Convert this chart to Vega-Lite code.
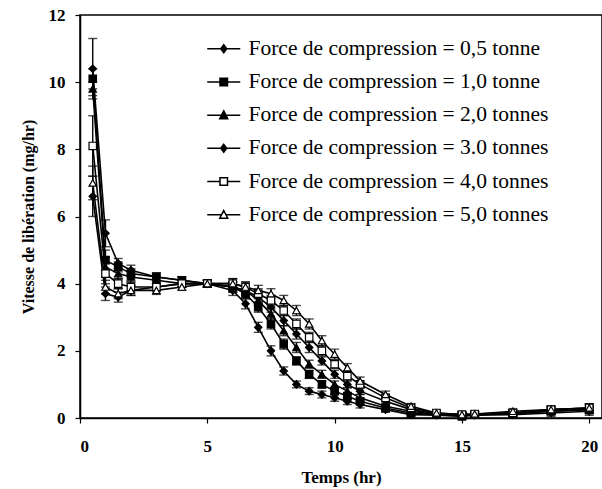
{
"$schema": "https://vega.github.io/schema/vega-lite/v6.json",
"width": 522, "height": 403,
"autosize": {"type": "none"},
"padding": {"left": 80, "top": 15, "right": 0, "bottom": 71},
"background": "white",
"config": {"view": {"stroke": "black", "strokeWidth": 1.5}, "font": "Liberation Serif"},
"datasets": {"d": [
{"f":"0,5 tonne","t":0.5,"v":10.4,"e":0.9},{"f":"0,5 tonne","t":1,"v":5.5,"e":0.4},{"f":"0,5 tonne","t":1.5,"v":4.6,"e":0.15},{"f":"0,5 tonne","t":2,"v":4.4,"e":0.15},{"f":"0,5 tonne","t":3,"v":4.2,"e":0.12},{"f":"0,5 tonne","t":4,"v":4.1,"e":0.1},{"f":"0,5 tonne","t":5,"v":4.0,"e":0.1},{"f":"0,5 tonne","t":6,"v":3.8,"e":0.15},{"f":"0,5 tonne","t":6.5,"v":3.4,"e":0.15},{"f":"0,5 tonne","t":7,"v":2.7,"e":0.15},{"f":"0,5 tonne","t":7.5,"v":2.0,"e":0.15},{"f":"0,5 tonne","t":8,"v":1.4,"e":0.12},{"f":"0,5 tonne","t":8.5,"v":1.0,"e":0.1},{"f":"0,5 tonne","t":9,"v":0.8,"e":0.1},{"f":"0,5 tonne","t":9.5,"v":0.7,"e":0.1},{"f":"0,5 tonne","t":10,"v":0.6,"e":0.1},{"f":"0,5 tonne","t":10.5,"v":0.5,"e":0.1},{"f":"0,5 tonne","t":11,"v":0.4,"e":0.1},{"f":"0,5 tonne","t":12,"v":0.25,"e":0.08},{"f":"0,5 tonne","t":13,"v":0.1,"e":0.08},{"f":"0,5 tonne","t":14,"v":0.08,"e":0.08},{"f":"0,5 tonne","t":15,"v":0.05,"e":0.08},{"f":"0,5 tonne","t":15.5,"v":0.08,"e":0.08},{"f":"0,5 tonne","t":17,"v":0.1,"e":0.08},{"f":"0,5 tonne","t":18.5,"v":0.15,"e":0.1},{"f":"0,5 tonne","t":20,"v":0.2,"e":0.12},
{"f":"1,0 tonne","t":0.5,"v":10.1,"e":0.3},{"f":"1,0 tonne","t":1,"v":4.7,"e":0.3},{"f":"1,0 tonne","t":1.5,"v":4.5,"e":0.15},{"f":"1,0 tonne","t":2,"v":4.3,"e":0.15},{"f":"1,0 tonne","t":3,"v":4.2,"e":0.12},{"f":"1,0 tonne","t":4,"v":4.1,"e":0.1},{"f":"1,0 tonne","t":5,"v":4.0,"e":0.1},{"f":"1,0 tonne","t":6,"v":3.9,"e":0.15},{"f":"1,0 tonne","t":6.5,"v":3.7,"e":0.15},{"f":"1,0 tonne","t":7,"v":3.3,"e":0.15},{"f":"1,0 tonne","t":7.5,"v":2.8,"e":0.15},{"f":"1,0 tonne","t":8,"v":2.2,"e":0.15},{"f":"1,0 tonne","t":8.5,"v":1.7,"e":0.12},{"f":"1,0 tonne","t":9,"v":1.3,"e":0.12},{"f":"1,0 tonne","t":9.5,"v":1.0,"e":0.1},{"f":"1,0 tonne","t":10,"v":0.8,"e":0.1},{"f":"1,0 tonne","t":10.5,"v":0.65,"e":0.1},{"f":"1,0 tonne","t":11,"v":0.5,"e":0.1},{"f":"1,0 tonne","t":12,"v":0.3,"e":0.08},{"f":"1,0 tonne","t":13,"v":0.15,"e":0.08},{"f":"1,0 tonne","t":14,"v":0.1,"e":0.08},{"f":"1,0 tonne","t":15,"v":0.05,"e":0.08},{"f":"1,0 tonne","t":15.5,"v":0.1,"e":0.08},{"f":"1,0 tonne","t":17,"v":0.12,"e":0.08},{"f":"1,0 tonne","t":18.5,"v":0.2,"e":0.1},{"f":"1,0 tonne","t":20,"v":0.25,"e":0.12},
{"f":"2,0 tonnes","t":0.5,"v":9.8,"e":0.2},{"f":"2,0 tonnes","t":1,"v":4.5,"e":0.3},{"f":"2,0 tonnes","t":1.5,"v":4.3,"e":0.15},{"f":"2,0 tonnes","t":2,"v":4.2,"e":0.15},{"f":"2,0 tonnes","t":3,"v":4.1,"e":0.12},{"f":"2,0 tonnes","t":4,"v":4.0,"e":0.1},{"f":"2,0 tonnes","t":5,"v":4.0,"e":0.1},{"f":"2,0 tonnes","t":6,"v":3.9,"e":0.15},{"f":"2,0 tonnes","t":6.5,"v":3.8,"e":0.15},{"f":"2,0 tonnes","t":7,"v":3.5,"e":0.15},{"f":"2,0 tonnes","t":7.5,"v":3.1,"e":0.15},{"f":"2,0 tonnes","t":8,"v":2.6,"e":0.15},{"f":"2,0 tonnes","t":8.5,"v":2.1,"e":0.15},{"f":"2,0 tonnes","t":9,"v":1.6,"e":0.12},{"f":"2,0 tonnes","t":9.5,"v":1.3,"e":0.12},{"f":"2,0 tonnes","t":10,"v":1.0,"e":0.1},{"f":"2,0 tonnes","t":10.5,"v":0.8,"e":0.1},{"f":"2,0 tonnes","t":11,"v":0.6,"e":0.1},{"f":"2,0 tonnes","t":12,"v":0.35,"e":0.08},{"f":"2,0 tonnes","t":13,"v":0.2,"e":0.08},{"f":"2,0 tonnes","t":14,"v":0.1,"e":0.08},{"f":"2,0 tonnes","t":15,"v":0.08,"e":0.08},{"f":"2,0 tonnes","t":15.5,"v":0.1,"e":0.08},{"f":"2,0 tonnes","t":17,"v":0.15,"e":0.08},{"f":"2,0 tonnes","t":18.5,"v":0.2,"e":0.1},{"f":"2,0 tonnes","t":20,"v":0.25,"e":0.12},
{"f":"3.0 tonnes","t":0.5,"v":6.6,"e":0.6},{"f":"3.0 tonnes","t":1,"v":3.7,"e":0.2},{"f":"3.0 tonnes","t":1.5,"v":3.6,"e":0.15},{"f":"3.0 tonnes","t":2,"v":3.8,"e":0.15},{"f":"3.0 tonnes","t":3,"v":3.9,"e":0.12},{"f":"3.0 tonnes","t":4,"v":4.0,"e":0.1},{"f":"3.0 tonnes","t":5,"v":4.0,"e":0.1},{"f":"3.0 tonnes","t":6,"v":3.9,"e":0.15},{"f":"3.0 tonnes","t":6.5,"v":3.8,"e":0.15},{"f":"3.0 tonnes","t":7,"v":3.6,"e":0.15},{"f":"3.0 tonnes","t":7.5,"v":3.3,"e":0.15},{"f":"3.0 tonnes","t":8,"v":2.9,"e":0.15},{"f":"3.0 tonnes","t":8.5,"v":2.5,"e":0.15},{"f":"3.0 tonnes","t":9,"v":2.1,"e":0.15},{"f":"3.0 tonnes","t":9.5,"v":1.7,"e":0.12},{"f":"3.0 tonnes","t":10,"v":1.3,"e":0.12},{"f":"3.0 tonnes","t":10.5,"v":1.0,"e":0.1},{"f":"3.0 tonnes","t":11,"v":0.8,"e":0.1},{"f":"3.0 tonnes","t":12,"v":0.5,"e":0.1},{"f":"3.0 tonnes","t":13,"v":0.25,"e":0.08},{"f":"3.0 tonnes","t":14,"v":0.12,"e":0.08},{"f":"3.0 tonnes","t":15,"v":0.1,"e":0.08},{"f":"3.0 tonnes","t":15.5,"v":0.1,"e":0.08},{"f":"3.0 tonnes","t":17,"v":0.15,"e":0.08},{"f":"3.0 tonnes","t":18.5,"v":0.25,"e":0.1},{"f":"3.0 tonnes","t":20,"v":0.3,"e":0.12},
{"f":"4,0 tonnes","t":0.5,"v":8.1,"e":0.9},{"f":"4,0 tonnes","t":1,"v":4.3,"e":0.3},{"f":"4,0 tonnes","t":1.5,"v":4.0,"e":0.15},{"f":"4,0 tonnes","t":2,"v":3.9,"e":0.15},{"f":"4,0 tonnes","t":3,"v":3.9,"e":0.12},{"f":"4,0 tonnes","t":4,"v":4.0,"e":0.1},{"f":"4,0 tonnes","t":5,"v":4.0,"e":0.1},{"f":"4,0 tonnes","t":6,"v":4.0,"e":0.15},{"f":"4,0 tonnes","t":6.5,"v":3.9,"e":0.15},{"f":"4,0 tonnes","t":7,"v":3.7,"e":0.15},{"f":"4,0 tonnes","t":7.5,"v":3.5,"e":0.15},{"f":"4,0 tonnes","t":8,"v":3.2,"e":0.15},{"f":"4,0 tonnes","t":8.5,"v":2.8,"e":0.15},{"f":"4,0 tonnes","t":9,"v":2.4,"e":0.15},{"f":"4,0 tonnes","t":9.5,"v":2.0,"e":0.15},{"f":"4,0 tonnes","t":10,"v":1.6,"e":0.12},{"f":"4,0 tonnes","t":10.5,"v":1.25,"e":0.12},{"f":"4,0 tonnes","t":11,"v":1.0,"e":0.1},{"f":"4,0 tonnes","t":12,"v":0.6,"e":0.1},{"f":"4,0 tonnes","t":13,"v":0.3,"e":0.08},{"f":"4,0 tonnes","t":14,"v":0.15,"e":0.08},{"f":"4,0 tonnes","t":15,"v":0.1,"e":0.08},{"f":"4,0 tonnes","t":15.5,"v":0.12,"e":0.08},{"f":"4,0 tonnes","t":17,"v":0.15,"e":0.08},{"f":"4,0 tonnes","t":18.5,"v":0.25,"e":0.1},{"f":"4,0 tonnes","t":20,"v":0.3,"e":0.12},
{"f":"5,0 tonnes","t":0.5,"v":7.0,"e":0.5},{"f":"5,0 tonnes","t":1,"v":3.9,"e":0.2},{"f":"5,0 tonnes","t":1.5,"v":3.7,"e":0.15},{"f":"5,0 tonnes","t":2,"v":3.8,"e":0.15},{"f":"5,0 tonnes","t":3,"v":3.8,"e":0.12},{"f":"5,0 tonnes","t":4,"v":3.9,"e":0.1},{"f":"5,0 tonnes","t":5,"v":4.0,"e":0.1},{"f":"5,0 tonnes","t":6,"v":4.0,"e":0.15},{"f":"5,0 tonnes","t":6.5,"v":3.9,"e":0.15},{"f":"5,0 tonnes","t":7,"v":3.8,"e":0.15},{"f":"5,0 tonnes","t":7.5,"v":3.7,"e":0.15},{"f":"5,0 tonnes","t":8,"v":3.5,"e":0.15},{"f":"5,0 tonnes","t":8.5,"v":3.2,"e":0.15},{"f":"5,0 tonnes","t":9,"v":2.8,"e":0.15},{"f":"5,0 tonnes","t":9.5,"v":2.3,"e":0.15},{"f":"5,0 tonnes","t":10,"v":1.9,"e":0.15},{"f":"5,0 tonnes","t":10.5,"v":1.5,"e":0.12},{"f":"5,0 tonnes","t":11,"v":1.1,"e":0.12},{"f":"5,0 tonnes","t":12,"v":0.7,"e":0.1},{"f":"5,0 tonnes","t":13,"v":0.35,"e":0.08},{"f":"5,0 tonnes","t":14,"v":0.15,"e":0.08},{"f":"5,0 tonnes","t":15,"v":0.1,"e":0.08},{"f":"5,0 tonnes","t":15.5,"v":0.12,"e":0.08},{"f":"5,0 tonnes","t":17,"v":0.2,"e":0.08},{"f":"5,0 tonnes","t":18.5,"v":0.25,"e":0.1},{"f":"5,0 tonnes","t":20,"v":0.3,"e":0.12}
]},
"data": {"name": "d"},
"encoding": {
  "x": {"field": "t", "type": "quantitative", "scale": {"domain": [0, 20.5], "nice": false},
    "axis": {"values": [0, 5, 10, 15, 20], "title": "Temps (hr)", "grid": false,
      "titleFont": "Liberation Serif", "titleFontSize": 17, "titleFontWeight": "bold", "titleColor": "black", "titlePadding": 15,
      "labelFont": "Liberation Serif", "labelFontSize": 17, "labelFontWeight": "bold", "labelColor": "black", "labelPadding": 15,
      "domainColor": "black", "domainWidth": 1.5, "tickColor": "black", "tickSize": 5, "tickWidth": 1.2}},
  "y": {"field": "v", "type": "quantitative", "scale": {"domain": [0, 12], "nice": false},
    "axis": {"values": [0, 2, 4, 6, 8, 10, 12], "title": "Vitesse de libération (mg/hr)", "grid": false,
      "titleFont": "Liberation Serif", "titleFontSize": 16, "titleFontWeight": "bold", "titleColor": "black", "titlePadding": 12,
      "labelFont": "Liberation Serif", "labelFontSize": 17, "labelFontWeight": "bold", "labelColor": "black", "labelPadding": 10,
      "domainColor": "black", "domainWidth": 1.5, "tickColor": "black", "tickSize": 5, "tickWidth": 1.2}}
},
"layer": [
  {"mark": {"type": "errorbar", "ticks": {"size": 9}, "color": "black", "thickness": 1.4},
   "encoding": {"yError": {"field": "e"}}},
  {"mark": {"type": "line", "color": "black", "strokeWidth": 1.6},
   "encoding": {"detail": {"field": "f"}}},
  {"mark": {"type": "point", "filled": true, "stroke": "black", "strokeWidth": 1.2, "size": 55, "opacity": 1},
   "encoding": {
     "shape": {"field": "f", "legend": null, "scale": {"domain": ["0,5 tonne","1,0 tonne","2,0 tonnes","3.0 tonnes","4,0 tonnes","5,0 tonnes"], "range": ["diamond","square","triangle-up","diamond","square","triangle-up"]}},
     "fill": {"field": "f", "legend": null, "scale": {"domain": ["0,5 tonne","1,0 tonne","2,0 tonnes","3.0 tonnes","4,0 tonnes","5,0 tonnes"], "range": ["black","black","black","black","white","white"]}}}},
  {"transform": [{"filter": "datum.t < 0"}],
   "mark": {"type": "point", "filled": true, "stroke": "black", "strokeWidth": 1.3, "opacity": 1},
   "encoding": {
     "shape": {"field": "f", "scale": {"domain": ["0,5 tonne","1,0 tonne","2,0 tonnes","3.0 tonnes","4,0 tonnes","5,0 tonnes"],
        "range": ["M-3.3,0H3.3M0,-0.8L0.6,0L0,0.8L-0.6,0Z","M-3.3,0H3.3M-0.75,-0.75H0.75V0.75H-0.75Z","M-3.3,0H3.3M0,-0.85L0.8,0.7H-0.8Z","M-3.3,0H3.3M0,-0.8L0.6,0L0,0.8L-0.6,0Z","M-3.3,0H-0.75M0.75,0H3.3M-0.75,-0.75H0.75V0.75H-0.75Z","M-3.3,0H-0.45M0.45,0H3.3M0,-0.85L0.8,0.7H-0.8Z"]},
        "legend": {"orient": "none", "legendX": 133, "legendY": 23, "title": null, "padding": 0, "symbolSize": 100, "symbolOpacity": 1, "labelFont": "Liberation Serif", "labelFontSize": 21.5, "labelColor": "black", "labelOffset": 14, "rowPadding": 10.2, "labelLimit": 500, "labelExpr": "'Force de compression = ' + datum.label",
          "encode": {"symbols": {"update": {"stroke": {"value": "black"}, "strokeWidth": {"value": 1.6}, "strokeOpacity": {"value": 1}}}}}},
     "fill": {"field": "f", "scale": {"domain": ["0,5 tonne","1,0 tonne","2,0 tonnes","3.0 tonnes","4,0 tonnes","5,0 tonnes"], "range": ["black","black","black","black","white","white"]},
        "legend": {"orient": "none", "legendX": 133, "legendY": 23, "title": null, "padding": 0, "symbolSize": 100, "symbolOpacity": 1, "labelFont": "Liberation Serif", "labelFontSize": 21.5, "labelColor": "black", "labelOffset": 14, "rowPadding": 10.2, "labelLimit": 500, "labelExpr": "'Force de compression = ' + datum.label",
          "encode": {"symbols": {"update": {"stroke": {"value": "black"}, "strokeWidth": {"value": 1.6}, "strokeOpacity": {"value": 1}}}}}}}}
],
"resolve": {"scale": {"shape": "independent", "fill": "independent"}}
}
